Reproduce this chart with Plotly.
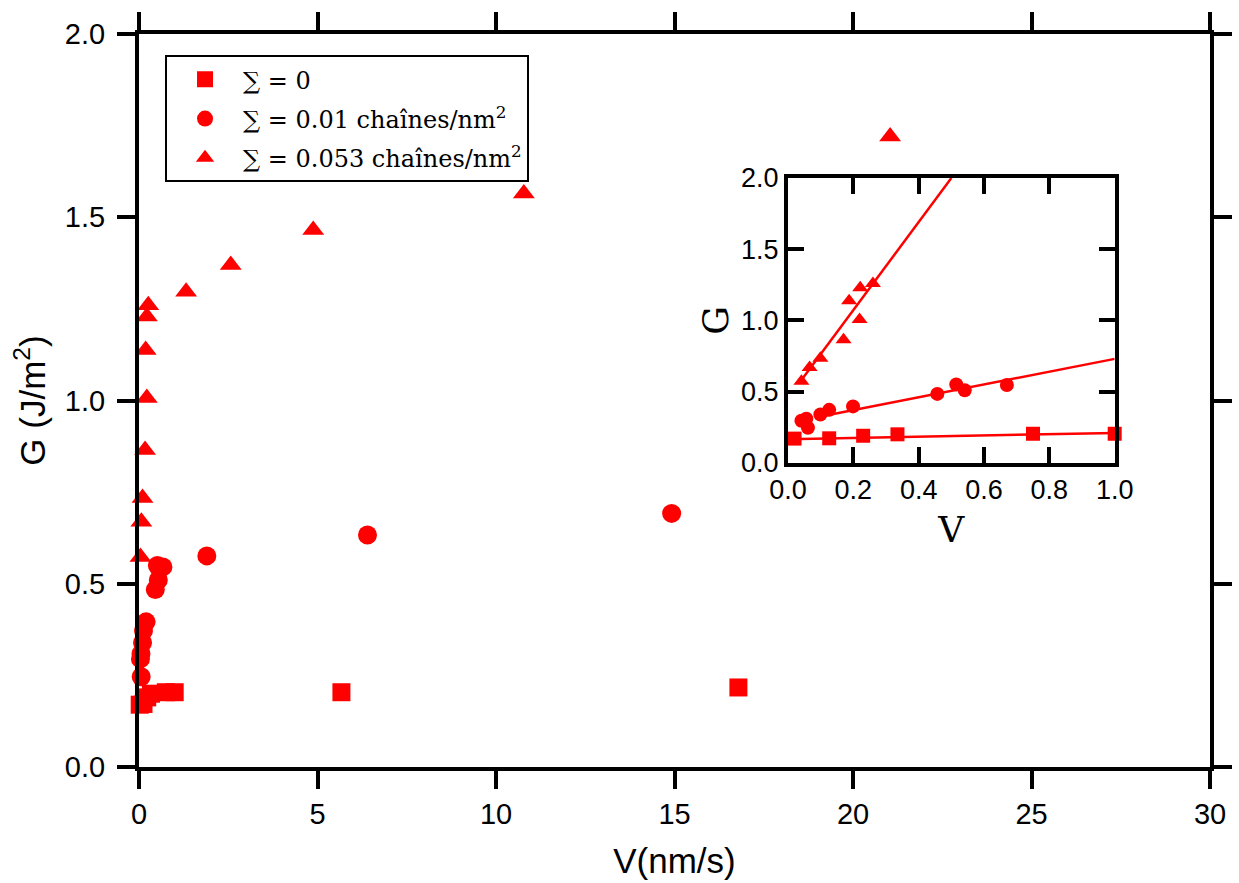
import plotly.graph_objects as go

# Main plot data (V in nm/s, G in J/m2)
sq_v = [0.02, 0.126, 0.23, 0.335, 0.75, 1.0, 5.67, 16.79]
sq_g = [0.17, 0.172, 0.19, 0.2, 0.204, 0.204, 0.204, 0.217]

ci_v = [0.041, 0.056, 0.061, 0.099, 0.126, 0.199, 0.457, 0.515, 0.541, 0.67, 1.9, 6.4, 14.92]
ci_g = [0.295, 0.309, 0.246, 0.339, 0.372, 0.396, 0.484, 0.55, 0.51, 0.546, 0.576, 0.633, 0.692]

tr_v = [0.041, 0.066, 0.099, 0.17, 0.187, 0.219, 0.221, 0.26, 1.32, 2.57, 4.88, 10.78, 21.04]
tr_g = [0.573, 0.669, 0.734, 0.865, 1.138, 1.007, 1.229, 1.26, 1.297, 1.37, 1.465, 1.565, 1.72]

# Inset fit lines (end points)
fit_sq_x = [0.0, 1.0]
fit_sq_y = [0.165, 0.21]
fit_ci_x = [0.1, 1.0]
fit_ci_y = [0.325, 0.73]
fit_tr_x = [0.036, 0.5]
fit_tr_y = [0.566, 2.0]

names = ["∑ = 0", "∑ = 0.01 chaînes/nm<sup>2</sup>", "∑ = 0.053 chaînes/nm<sup>2</sup>"]

RED = "#ff0000"
sans = "Liberation Sans"
serif = "DejaVu Serif"

fig = go.Figure()

# main series
fig.add_trace(go.Scatter(x=sq_v, y=sq_g, mode="markers", name=names[0], legendgroup="a", cliponaxis=False,
                         marker=dict(symbol="square", size=18, color=RED)))
fig.add_trace(go.Scatter(x=ci_v, y=ci_g, mode="markers", name=names[1], legendgroup="b", cliponaxis=False,
                         marker=dict(symbol="circle", size=19, color=RED)))
fig.add_trace(go.Scatter(x=tr_v, y=tr_g, mode="markers", name=names[2], legendgroup="c", cliponaxis=False,
                         marker=dict(symbol="triangle-up", size=19, color=RED)))

# inset series (only V <= 1)
for vx, gy, sym in [(sq_v, sq_g, "square"), (ci_v, ci_g, "circle"), (tr_v, tr_g, "triangle-up")]:
    pts = [(a, b) for a, b in zip(vx, gy) if a <= 1.0]
    fig.add_trace(go.Scatter(x=[p[0] for p in pts], y=[p[1] for p in pts], mode="markers",
                             xaxis="x2", yaxis="y2", showlegend=False, cliponaxis=False,
                             marker=dict(symbol=sym, size=14, color=RED)))

for fx, fy in [(fit_sq_x, fit_sq_y), (fit_ci_x, fit_ci_y), (fit_tr_x, fit_tr_y)]:
    fig.add_trace(go.Scatter(x=fx, y=fy, mode="lines", xaxis="x2", yaxis="y2", showlegend=False,
                             line=dict(color=RED, width=2.5)))

axis_common = dict(showline=True, linecolor="black", linewidth=4, mirror="allticks",
                   ticks="outside", ticklen=18, tickwidth=4, tickcolor="black", automargin=False,
                   showgrid=False, zeroline=False, tickfont=dict(family=sans, size=29, color="black"))

inset_common = dict(showline=True, linecolor="black", linewidth=4, mirror="allticks",
                    ticks="inside", ticklen=16, tickwidth=4, tickcolor="black", automargin=False,
                    showgrid=False, zeroline=False, tickfont=dict(family=sans, size=27, color="black"))

fig.update_layout(
    width=1239, height=883,
    margin=dict(l=139, r=29, t=34, b=116),
    paper_bgcolor="white", plot_bgcolor="white",
    xaxis=dict(range=[0, 30], tickvals=[0, 5, 10, 15, 20, 25, 30], ticklabelstandoff=0,
               title=dict(text="V(nm/s)", font=dict(family=sans, size=35, color="black"), standoff=21),
               **axis_common),
    yaxis=dict(range=[0, 2], tickvals=[0, 0.5, 1.0, 1.5, 2.0], tickformat=".1f", ticklabelstandoff=6,
               title=dict(text="G (J/m<sup>2</sup>)", font=dict(family=sans, size=35, color="black"), standoff=10),
               **axis_common),
    xaxis2=dict(domain=[0.606, 0.911], anchor="y2", range=[0, 1], tickvals=[0, 0.2, 0.4, 0.6, 0.8, 1.0],
                tickformat=".1f",
                title=dict(text="V", font=dict(family=serif, size=36, color="black"), standoff=14),
                **inset_common),
    yaxis2=dict(domain=[0.415, 0.8035], anchor="x2", range=[0, 2], tickvals=[0, 0.5, 1.0, 1.5, 2.0],
                tickformat=".1f",
                title=dict(text="G", font=dict(family=serif, size=36, color="black"), standoff=2),
                **inset_common),
    legend=dict(x=0.0243, y=0.971, xanchor="left", yanchor="top",
                bgcolor="white", bordercolor="black", borderwidth=2,
                font=dict(family=serif, size=24, color="black"), itemwidth=66,
                tracegroupgap=5),
    showlegend=True,
)

# drop the default body margin so the figure fills the window exactly
fig.write_html("out.html", config={"displayModeBar": False},
               post_script="document.documentElement.style.margin='0';"
                           "document.documentElement.style.overflow='hidden';"
                           "document.body.style.margin='0';"
                           "document.body.style.overflow='hidden';")
